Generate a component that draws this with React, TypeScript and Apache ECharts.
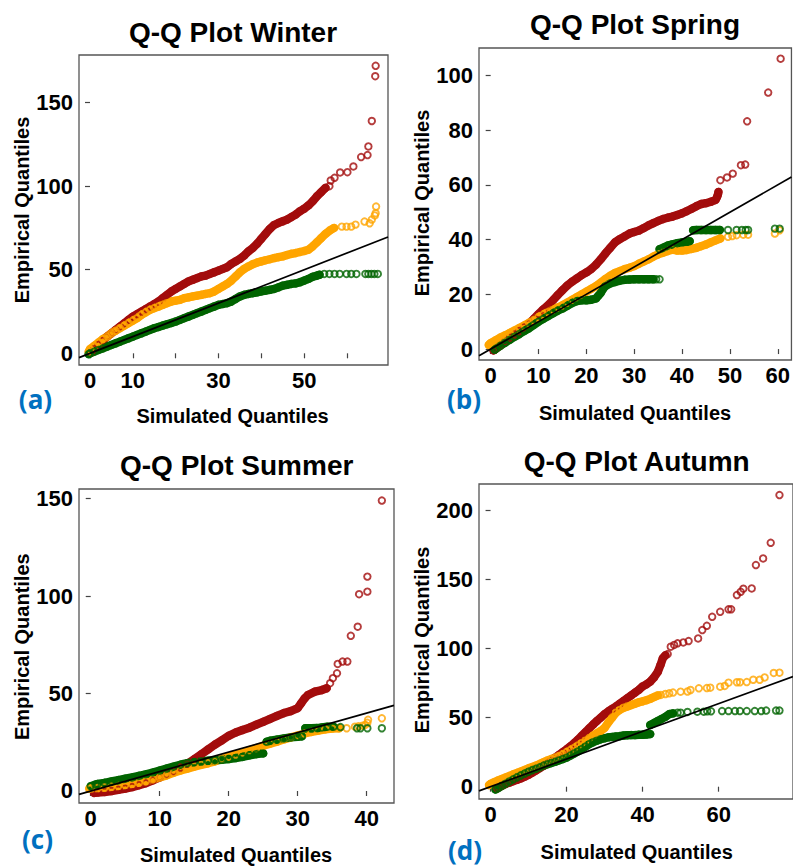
import React, { useEffect, useRef } from "react";
import * as echarts from "echarts";

type Pt = [number, number];

// ---------------- Tick values / labels ----------------
const winterXTicks = [0, 10, 20, 30, 40, 50, 60];
const winterXLabels = [0, 10, 30, 50];
const winterYTicks = [0, 50, 100, 150];
const springXTicks = [0, 10, 20, 30, 40, 50, 60];
const springYTicks = [0, 20, 40, 60, 80, 100];
const summerXTicks = [0, 10, 20, 30, 40];
const summerYTicks = [0, 50, 100, 150];
const autumnXTicks = [0, 20, 40, 60];
const autumnYTicks = [0, 50, 100, 150, 200];

// ---------------- Winter ----------------
const winterRedBand: Pt[][] = [[
  [0.3, 0.5], [1, 2.5], [2, 5], [3, 7.5], [4, 10], [5, 12], [6, 14], [7, 16], [8, 18], [9, 20], [10, 22],
  [11, 23.5], [12, 25], [13, 26.5], [14, 28], [15, 29.5], [16, 31], [17, 33], [18, 35], [19, 37], [20, 38.5],
  [21, 40], [22, 41.5], [23, 43], [24, 44], [25, 45], [26, 46], [27, 46.5], [28, 47.5], [29, 48.5], [30, 49.5],
  [31, 50.5], [32, 51.5], [33, 53.5], [34, 55], [35, 56.5], [36, 58.5], [37, 61], [38, 63], [39, 65.5], [40, 68.5],
  [41, 71.5], [42, 74.5], [43, 76.8], [44, 78], [45, 79], [46, 80], [47, 81.5], [48, 83], [49, 85], [50, 86.5],
  [51, 88.5], [52, 91], [53, 94], [54, 96.5], [55, 99],
]];
const winterRedTail: Pt[] = [
  [55.9, 100], [56.2, 103.4], [57.1, 105], [58.4, 108.2], [60.1, 108.4], [61.5, 111.8], [63.3, 117.4],
  [64.8, 118.6], [65, 123.8], [65.8, 139], [66.6, 165.8], [66.7, 172],
];
const winterOrangeBand: Pt[][] = [[
  [-0.3, 1], [0, 2.5], [1, 4.5], [2, 6.5], [3, 8.5], [4, 10], [5, 12], [6, 13.5], [7, 15], [8, 16.5], [9, 18],
  [10, 19.5], [11, 21], [12, 23], [13, 24.5], [14, 26], [15, 27], [16, 28], [17, 29], [18, 30], [19, 31],
  [20, 31.5], [21, 32], [22, 33], [23, 33.5], [24, 34], [25, 34.5], [26, 35], [27, 35.5], [28, 36], [29, 37],
  [30, 38.5], [31, 40], [32, 41.5], [33, 43.5], [34, 46], [35, 48.5], [36, 50.5], [37, 52], [38, 53.3],
  [39, 54.3], [40, 55], [41, 55.7], [42, 56.3], [43, 57], [44, 57.5], [45, 58], [46, 58.8], [47, 59.5],
  [48, 60], [49, 60.6], [50, 61.2], [51, 62], [52, 64], [53, 66.5], [54, 69], [55, 71.5], [56, 73.5], [57, 75],
]];
const winterOrangeTail: Pt[] = [
  [58.8, 75.8], [59.9, 75.8], [61, 75.8], [62, 77], [64.1, 78.8], [65.3, 77.8], [65.8, 80], [66.5, 82.5],
  [66.7, 83.8], [66.8, 87.8],
];
const winterGreenBand: Pt[][] = [[
  [-0.3, -0.5], [0, 0], [1, 1], [2, 2], [3, 3], [4, 4], [5, 5], [6, 6], [7, 7], [8, 8], [9, 9], [10, 10],
  [11, 11], [12, 12], [13, 13], [14, 14], [15, 15], [16, 15.8], [17, 16.6], [18, 17.4], [19, 18.2], [20, 19],
  [21, 20], [22, 21], [23, 22], [24, 23], [25, 24], [26, 25], [27, 26], [28, 27], [29, 28], [30, 29],
  [31, 29.5], [32, 30], [33, 31], [34, 32.5], [35, 34], [36, 35], [37, 35.5], [38, 36], [39, 36.5], [40, 37],
  [41, 37.5], [42, 38], [43, 38.5], [44, 39.5], [45, 40.5], [46, 41], [47, 41.5], [48, 41.8], [49, 42.5],
  [50, 43.5], [51, 44.5], [52, 45.8], [53, 46.5], [53.6, 47],
]];
const winterGreenTail: Pt[] = [
  [54.7, 47.5], [55.9, 47.5], [57.1, 47.5], [58.3, 47.5], [59.9, 47.5], [61, 47.5], [62.2, 47.5],
  [64.3, 47.5], [65, 47.5], [65.7, 47.5], [66.4, 47.5], [67.2, 47.5],
];

// ---------------- Spring ----------------
const springRedBand: Pt[][] = [[
  [0.6, -0.5], [1, 0], [2, 1.3], [3, 2.7], [4, 4], [5, 5.3], [6, 6.6], [7, 8], [8, 9.3], [9, 11], [10, 12.8],
  [11, 14.5], [12, 16], [13, 17.8], [14, 19.7], [15, 21.5], [16, 23.2], [17, 24.6], [18, 25.8], [19, 27],
  [20, 28], [21, 29.2], [22, 30.8], [23, 32.8], [24, 35], [25, 37], [26, 39], [27, 40.2], [28, 41.2],
  [29, 42.2], [30, 42.8], [31, 43.3], [32, 44.2], [33, 45.2], [34, 46], [35, 46.8], [36, 47.5], [37, 48],
  [38, 48.4], [39, 49], [40, 49.6], [41, 50.4], [42, 51.3], [43, 52.2], [44, 53], [45, 53.3], [46, 53.8],
  [47, 54.5], [47.3, 55.5], [47.5, 56.5], [47.6, 57.4],
]];
const springRedTail: Pt[] = [
  [48, 61.7], [49.4, 62.7], [50.6, 64.1], [52.3, 67.2], [53.2, 67.4], [53.6, 83.2], [58, 93.7], [60.6, 106.1],
];
const springOrangeBand: Pt[][] = [[
  [-0.4, 1.5], [0, 2.2], [1, 3.2], [2, 4.2], [3, 5], [4, 5.9], [5, 6.8], [6, 7.7], [7, 8.6], [8, 9.6],
  [9, 10.6], [10, 11.7], [11, 12.6], [12, 13.5], [13, 14.3], [14, 15.2], [15, 16], [16, 17], [17, 18],
  [18, 19], [19, 20], [20, 21], [21, 22], [22, 23], [23, 24.3], [24, 25.6], [25, 26.8], [26, 27.8],
  [27, 28.5], [28, 29.2], [29, 29.7], [30, 30.3], [31, 31.2], [32, 32], [33, 32.8], [34, 33.8], [35, 34.6],
  [36, 35.2], [37, 35.8], [38, 36.3], [39, 36], [40, 36], [41, 36.2], [42, 36.6], [43, 37], [44, 37.6],
  [45, 38.2], [46, 39], [47, 39.7], [48, 40.4],
]];
const springOrangeTail: Pt[] = [
  [49.6, 41], [50.5, 41.3], [51.4, 41.6], [52.8, 41.8], [53.8, 41.8], [59.4, 42.2], [60.4, 43.4],
];
const springGreenBand: Pt[][] = [
  [
    [0.8, -0.3], [1, 0], [2, 1.2], [3, 2.3], [4, 3.4], [5, 4.5], [6, 5.5], [7, 6.6], [8, 7.6], [9, 8.8],
    [10, 10], [11, 11], [12, 12], [13, 13], [14, 14], [15, 14.8], [16, 15.8], [17, 16.8], [18, 17.5],
    [19, 17.8], [20, 17.8], [21, 18], [22, 18.5], [22.5, 19.5], [23, 20.5], [23.5, 22], [24, 23], [25, 24],
    [26, 24.5], [27, 25], [28, 25.3], [29, 25.4], [30, 25.5], [31, 25.5], [32, 25.5], [33, 25.5], [34, 25.5],
  ],
  [[35.3, 36.5], [36, 37], [37, 37.8], [38, 38.3], [39, 38.7], [40, 39], [41, 39.2], [41.6, 39.4]],
  [[42.3, 43.4], [43, 43.5], [44, 43.5], [45, 43.5], [46, 43.5], [47, 43.5], [47.9, 43.5]],
];
const springGreenTail: Pt[] = [
  [34.6, 25.5], [35.3, 25.5], [49.6, 43.5], [51.4, 43.5], [52.5, 43.5], [53.3, 43.5], [53.8, 43.5],
  [59.4, 44], [60.4, 44],
];

// ---------------- Summer ----------------
const summerRedBand: Pt[][] = [[
  [0.5, -1], [1, -0.8], [2, -0.5], [3, 0], [4, 0.6], [5, 1.2], [6, 2], [7, 3], [8, 4], [9, 5.5], [10, 7],
  [11, 8.5], [12, 10], [13, 12], [14, 14], [15, 16.3], [16, 18.8], [17, 21.3], [18, 23.8], [19, 26],
  [20, 28.3], [21, 30], [22, 31.3], [23, 32.5], [24, 34], [25, 35.5], [26, 37], [27, 38.5], [28, 40],
  [29, 41], [30, 42.5], [30.5, 45], [31, 47.5], [31.5, 49.3], [32.5, 51], [33.5, 51.8], [34.2, 52.7],
]];
const summerRedTail: Pt[] = [
  [34.7, 55.3], [35.1, 57.9], [35.7, 60.4], [35.8, 65.2], [36.5, 66.4], [37.2, 66.4], [37.7, 79.6],
  [38.7, 84.3], [38.9, 101], [40.1, 102.3], [40.1, 110], [42.2, 149],
];
const summerOrangeBand: Pt[][] = [[
  [-0.2, 1.2], [0, 1.4], [1, 1.5], [2, 1.8], [3, 2.2], [4, 2.6], [5, 3.1], [6, 3.7], [7, 4.3], [8, 5],
  [9, 6], [10, 7], [11, 8], [12, 9.3], [13, 10.5], [14, 11.5], [15, 12.5], [16, 13.4], [17, 14.2],
  [18, 15.2], [19, 16.4], [20, 17.6], [21, 18.7], [22, 19.8], [23, 21], [24, 22], [25, 23.2], [26, 24.3],
  [27, 25.3], [28, 26.5], [29, 27.5], [30, 28.5], [31, 29.5], [32, 30.3], [33, 31], [34, 31.6], [35, 32],
  [36, 32.2],
]];
const summerOrangeTail: Pt[] = [
  [37.1, 32.2], [38.3, 33], [38.8, 33.2], [39.4, 33.5], [39.8, 33.9], [40.1, 35], [40.2, 36.5], [42.2, 37.3],
];
const summerGreenBand: Pt[][] = [
  [
    [0, 2.5], [0.7, 3.3], [1, 3.6], [2, 4.2], [3, 4.9], [4, 5.6], [5, 6.3], [6, 7], [7, 7.8], [8, 8.6],
    [9, 9.5], [10, 10.5], [11, 11.5], [12, 12.5], [13, 13.5], [14, 14.3], [15, 14.8], [16, 15.2], [17, 15.5],
    [18, 15.8], [19, 16], [20, 16.4], [21, 16.9], [22, 17.5], [23, 18.3], [24, 18.9], [25, 19.3],
  ],
  [[25.5, 25.3], [26, 25.8], [27, 26.4], [28, 27], [29, 27.5], [30, 27.8], [30.6, 28]],
  [[31.1, 32.2], [32, 32.2], [32.8, 32.3], [33.5, 32.6], [34.3, 33], [35.2, 33]],
];
const summerGreenTail: Pt[] = [[36.2, 32.8], [38.6, 32.2], [39.1, 32.2], [40.1, 32.2], [42.2, 32.2]];

// ---------------- Autumn ----------------
const autumnRedBand: Pt[][] = [[
  [1.7, -1.2], [2, -0.5], [3, 0.8], [4, 2], [5, 3], [6, 4], [7, 5], [8, 6], [9, 7.2], [10, 8.6], [11, 10.2],
  [12, 11.8], [13, 13.5], [14, 15.2], [15, 17], [16, 19], [17, 21], [18, 23], [19, 25], [20, 27], [21, 29.2],
  [22, 31.5], [23, 34], [24, 36.8], [25, 39.5], [26, 42.3], [27, 45], [28, 47.5], [29, 50], [30, 52.5],
  [31, 54.5], [32, 56.3], [33, 58], [34, 60], [35, 62], [36, 64], [37, 66], [38, 68], [39, 70], [40, 72.5],
  [41, 74], [42, 76], [43, 79], [44, 83], [44.7, 87.9], [45.3, 92.8], [46, 95],
]];
const autumnRedTail: Pt[] = [
  [46.6, 95.9], [47.4, 101.2], [48.3, 102.5], [49.2, 103.6], [50.7, 104.3], [52.1, 105.3], [54.6, 107.2],
  [55.7, 113.2], [56.9, 116.3], [58.3, 122.8], [60.4, 126.4], [62.6, 128.2], [63.3, 128.2], [64.8, 138.5],
  [65.8, 140.9], [66.5, 143.1], [68.7, 143.3], [69.8, 160.2], [71.7, 165], [73.7, 176.3], [76, 210.8],
];
const autumnOrangeBand: Pt[][] = [[
  [-0.4, 1.2], [0, 2], [1, 3.3], [2, 4.5], [3, 5.6], [4, 6.7], [5, 7.8], [6, 9], [7, 10], [8, 11], [9, 12.1],
  [10, 13.3], [11, 14.3], [12, 15.3], [13, 16.5], [14, 17.8], [15, 19], [16, 20], [17, 21], [18, 22.2],
  [19, 23.5], [20, 25], [21, 26.5], [22, 28], [23, 29.8], [24, 31.5], [25, 33.3], [26, 35.2], [27, 37],
  [28, 38.7], [29, 40.3], [30, 42.5], [31, 46.5], [32, 50], [33, 53.5], [34, 55.5], [35, 57], [36, 58],
  [37, 59], [38, 60], [39, 61], [40, 61.7], [41, 62.5], [42, 63.5], [43, 64.8], [44, 66],
]];
const autumnOrangeTail: Pt[] = [
  [44.8, 66.3], [46, 67], [47, 67.5], [48, 68], [50, 68.7], [51.8, 68.8], [52.6, 69.9], [54.8, 71.1],
  [56.9, 71.3], [57.8, 71.6], [60.4, 72.3], [61.6, 72.8], [62.6, 75.2], [64.8, 75.5], [65.6, 75.5],
  [67.4, 75.6], [69.1, 77.3], [70.8, 77.3], [72.1, 79], [74.5, 82.2], [76, 82.4],
];
const autumnGreenBand: Pt[][] = [
  [
    [1.3, -2], [2, -1], [3, 0.7], [4, 2.2], [5, 3.8], [6, 5.3], [7, 6.8], [8, 8.2], [9, 9.5], [10, 10.8],
    [11, 12], [12, 13], [13, 14], [14, 15.3], [15, 16.3], [16, 17.2], [17, 18], [18, 19], [19, 20], [20, 21],
    [21, 22.5], [22, 24], [23, 25.5], [24, 27.2], [25, 29], [26, 30.8], [27, 32.2], [28, 33.3], [29, 34.3],
    [30, 35], [31, 35.7], [32, 36], [33, 36.3], [34, 36.6], [35, 37], [36, 37.2], [37, 37.3], [38, 37.3],
    [39, 37.5], [40, 37.5], [41, 37.7], [42, 38],
  ],
  [[42, 44.6], [43, 46], [44, 47.5], [45, 49], [46, 50.5], [47, 52.5], [48, 53]],
];
const autumnGreenTail: Pt[] = [
  [49.2, 53.5], [50, 53.5], [51.8, 54], [54.4, 54.2], [56.1, 54.2], [57, 54.5], [58, 54.5], [60.9, 54.7],
  [62.6, 54.7], [64.3, 54.7], [65.6, 54.7], [67.4, 54.7], [69.5, 54.7], [71.2, 54.7], [72.5, 55],
  [75.1, 55], [76, 55],
];

// ---------------- Layout / styles ----------------
const RED = "#a30d0d";
const ORANGE = "#ffa500";
const GREEN = "#006400";
const FONT = '"Liberation Sans", Arial, sans-serif';

const panels = [
  {
    title: "Q-Q Plot Winter", tag: "(a)",
    grid: { left: 79, top: 55, width: 309, height: 310 },
    xRange: [-2.57, 69.58], yRange: [-7.0, 178.5],
    xTicks: winterXTicks, xLabels: winterXLabels, yTicks: winterYTicks, yLabels: winterYTicks,
    titlePos: [233, 32.5], xNamePos: [232.5, 416], yNamePos: [22, 210], tagPos: [35.5, 399],
    red: [winterRedBand, winterRedTail], orange: [winterOrangeBand, winterOrangeTail], green: [winterGreenBand, winterGreenTail],
  },
  {
    title: "Q-Q Plot Spring", tag: "(b)",
    grid: { left: 479, top: 48, width: 313, height: 312 },
    xRange: [-2.44, 62.86], yRange: [-4.0, 110.0],
    xTicks: springXTicks, xLabels: springXTicks, yTicks: springYTicks, yLabels: springYTicks,
    titlePos: [635, 24.2], xNamePos: [635, 413], yNamePos: [422, 203], tagPos: [464, 399],
    red: [springRedBand, springRedTail], orange: [springOrangeBand, springOrangeTail], green: [springGreenBand, springGreenTail],
  },
  {
    title: "Q-Q Plot Summer", tag: "(c)",
    grid: { left: 79, top: 489, width: 315, height: 314 },
    xRange: [-1.7, 43.96], yRange: [-6.16, 154.96],
    xTicks: summerXTicks, xLabels: summerXTicks, yTicks: summerYTicks, yLabels: summerYTicks,
    titlePos: [236.7, 465], xNamePos: [236, 855], yNamePos: [22, 646.7], tagPos: [37.5, 839],
    red: [summerRedBand, summerRedTail], orange: [summerOrangeBand, summerOrangeTail], green: [summerGreenBand, summerGreenTail],
  },
  {
    title: "Q-Q Plot Autumn", tag: "(d)",
    grid: { left: 479, top: 484, width: 318, height: 315 },
    xRange: [-3.04, 79.56], yRange: [-8.9, 218.8],
    xTicks: autumnXTicks, xLabels: autumnXTicks, yTicks: autumnYTicks, yLabels: autumnYTicks,
    titlePos: [636.7, 461], xNamePos: [636.7, 851.5], yNamePos: [422, 640], tagPos: [465, 850],
    red: [autumnRedBand, autumnRedTail], orange: [autumnOrangeBand, autumnOrangeTail], green: [autumnGreenBand, autumnGreenTail],
  },
];

function buildOption() {
  const grid: any[] = [];
  const xAxis: any[] = [];
  const yAxis: any[] = [];
  const series: any[] = [];
  const graphic: any[] = [];

  panels.forEach((p, i) => {
    grid.push({ ...p.grid, show: true, borderColor: "#555", borderWidth: 1.3, backgroundColor: "transparent" });
    const common = {
      type: "value", gridIndex: i, axisLine: { show: false }, splitLine: { show: false },
    };
    xAxis.push({
      ...common, min: p.xRange[0], max: p.xRange[1],
      axisTick: { show: true, inside: false, length: 5, customValues: p.xTicks, lineStyle: { color: "#444", width: 1.2 } },
      axisLabel: { customValues: p.xLabels, fontSize: 22, fontWeight: "bold", fontFamily: FONT, color: "#000", margin: 4 },
    });
    yAxis.push({
      ...common, min: p.yRange[0], max: p.yRange[1],
      axisTick: { show: true, inside: false, length: 5, customValues: p.yTicks, lineStyle: { color: "#444", width: 1.2 } },
      axisLabel: { customValues: p.yLabels, fontSize: 22, fontWeight: "bold", fontFamily: FONT, color: "#000", margin: 6 },
    });

    const groups: [string, any][] = [[RED, p.red], [ORANGE, p.orange], [GREEN, p.green]];
    groups.forEach(([color, [bands, tail]]) => {
      (bands as Pt[][]).forEach((seg) => {
        series.push({
          type: "line", xAxisIndex: i, yAxisIndex: i, data: seg, symbol: "none", silent: true,
          lineStyle: { color, width: 8.4, cap: "round", join: "round" }, z: 2,
        });
      });
      series.push({
        type: "scatter", xAxisIndex: i, yAxisIndex: i, silent: true,
        data: [...(bands as Pt[][]).flat(), ...(tail as Pt[])],
        symbol: "circle", symbolSize: 6.5,
        itemStyle: { color: "rgba(0,0,0,0)", borderColor: color, borderWidth: 1.9 }, z: 2,
      });
    });
    series.push({
      type: "line", xAxisIndex: i, yAxisIndex: i, silent: true, symbol: "none",
      data: [[p.xRange[0], p.xRange[0]], [p.xRange[1], p.xRange[1]]],
      lineStyle: { color: "#000", width: 1.7 }, z: 3,
    });

    graphic.push({
      type: "text", x: p.titlePos[0], y: p.titlePos[1],
      style: { text: p.title, font: `bold 28px ${FONT}`, fill: "#000", align: "center", verticalAlign: "middle" },
    });
    graphic.push({
      type: "text", x: p.xNamePos[0], y: p.xNamePos[1],
      style: { text: "Simulated Quantiles", font: `bold 20px ${FONT}`, fill: "#000", align: "center", verticalAlign: "middle" },
    });
    graphic.push({
      type: "text", x: p.yNamePos[0], y: p.yNamePos[1], rotation: Math.PI / 2,
      style: { text: "Empirical Quantiles", font: `bold 20px ${FONT}`, fill: "#000", align: "center", verticalAlign: "middle" },
    });
    graphic.push({
      type: "text", x: p.tagPos[0], y: p.tagPos[1],
      style: { text: p.tag, font: `bold 26px "Open Sans", sans-serif`, fill: "#0070c0", align: "center", verticalAlign: "middle" },
    });
  });

  return { animation: false, backgroundColor: "#fff", grid, xAxis, yAxis, series, graphic };
}

export default function App() {
  const ref = useRef<HTMLDivElement>(null);
  useEffect(() => {
    if (!ref.current) return;
    const chart = echarts.init(ref.current, undefined, { renderer: "svg" });
    chart.setOption(buildOption() as any);
    return () => chart.dispose();
  }, []);
  return <div ref={ref} style={{ position: "absolute", left: 0, top: 0, width: 793, height: 868 }} />;
}
